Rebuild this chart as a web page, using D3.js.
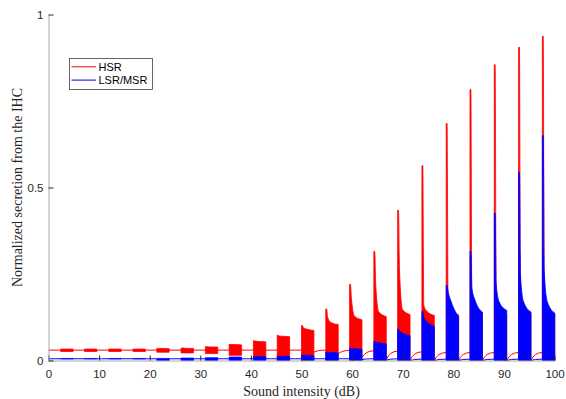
<!DOCTYPE html>
<html>
<head>
<meta charset="utf-8">
<script src="https://cdn.jsdelivr.net/npm/d3@7"></script>
<style>
  html, body { margin: 0; padding: 0; background: #fff; }
  svg { display: block; }
  .tick text { font-family: "Liberation Sans", Arial, sans-serif; font-size: 11.5px; fill: #262626; }
  .tick line { stroke: #262626; }
  .domain { stroke: #a8a8a8; }
</style>
</head>
<body>
<svg id="chart" width="566" height="399"></svg>
<script>
// Tone-burst onsets along the intensity axis (dB) and tone length (dB units)
const onsets = [2.4, 7.1, 11.9, 16.7, 21.4, 26.2, 31.0, 35.7, 40.5, 45.2, 50.0,
                54.8, 59.5, 64.3, 69.0, 73.8, 78.6, 83.3, 88.1, 92.9, 97.6];
const toneDur = 2.45;

// Spontaneous secretion levels between tones
const hsrSpont = 0.030;
const lsrSpont = 0.005;

// HSR response envelope per tone: onset peak, early, mid, end, trough
const hsrPeak  = [0.033, 0.033, 0.033, 0.033, 0.035, 0.036, 0.040, 0.047, 0.057, 0.073, 0.101,
                  0.149, 0.220, 0.315, 0.434, 0.563, 0.685, 0.783, 0.855, 0.905, 0.937];
const hsrEarly = [0.033, 0.033, 0.033, 0.033, 0.035, 0.036, 0.040, 0.046, 0.056, 0.071, 0.095,
                  0.125, 0.180, 0.220, 0.260, 0.160, 0.165, 0.160, 0.160, 0.160, 0.160];
const hsrMid   = [0.033, 0.033, 0.033, 0.033, 0.035, 0.035, 0.039, 0.046, 0.055, 0.070, 0.091,
                  0.110, 0.128, 0.140, 0.147, 0.142, 0.145, 0.145, 0.145, 0.145, 0.145];
const hsrEnd   = [0.033, 0.033, 0.033, 0.033, 0.034, 0.035, 0.039, 0.045, 0.054, 0.069, 0.087,
                  0.104, 0.118, 0.127, 0.133, 0.130, 0.132, 0.135, 0.135, 0.135, 0.135];
const hsrLow   = [0.026, 0.026, 0.026, 0.026, 0.024, 0.022, 0.020, 0.015, 0.007, 0.000, 0.000,
                  0.000, 0.000, 0.000, 0.000, 0.000, 0.000, 0.000, 0.000, 0.000, 0.000];

// LSR/MSR response envelope per tone
const lsrPeak  = [0.006, 0.006, 0.006, 0.006, 0.006, 0.007, 0.008, 0.010, 0.011, 0.0125, 0.016,
                  0.024, 0.036, 0.055, 0.090, 0.142, 0.217, 0.316, 0.426, 0.544, 0.650];
const lsrEarly = [0.006, 0.006, 0.006, 0.006, 0.006, 0.007, 0.008, 0.010, 0.011, 0.012, 0.016,
                  0.024, 0.035, 0.054, 0.086, 0.125, 0.200, 0.210, 0.222, 0.250, 0.260];
const lsrMid   = [0.006, 0.006, 0.006, 0.006, 0.006, 0.007, 0.008, 0.010, 0.011, 0.012, 0.015,
                  0.023, 0.034, 0.051, 0.079, 0.112, 0.170, 0.175, 0.169, 0.170, 0.170];
const lsrEnd   = [0.006, 0.006, 0.006, 0.006, 0.006, 0.007, 0.008, 0.010, 0.011, 0.012, 0.014,
                  0.022, 0.032, 0.048, 0.072, 0.099, 0.125, 0.140, 0.145, 0.140, 0.137];
const lsrLow   = [0.004, 0.004, 0.004, 0.004, 0.000, 0.000, 0.000, 0.000, 0.000, 0.000, 0.000,
                  0.000, 0.000, 0.000, 0.000, 0.000, 0.000, 0.000, 0.000, 0.000, 0.000];

// Post-tone depression and recovery level reached before the next tone
const hsrDip   = [0.030, 0.030, 0.030, 0.030, 0.030, 0.030, 0.030, 0.030, 0.030, 0.030,
                  0.024, 0.019, 0.008, 0.002, 0.000, 0.000, 0.000, 0.000, 0.000, 0.000];
const hsrRecov = [0.030, 0.030, 0.030, 0.030, 0.030, 0.030, 0.030, 0.030, 0.030, 0.030,
                  0.030, 0.029, 0.028, 0.027, 0.025, 0.023, 0.023, 0.023, 0.023, 0.023];
const lsrDip   = [0.005, 0.005, 0.005, 0.005, 0.005, 0.005, 0.005, 0.005, 0.005, 0.005,
                  0.005, 0.005, 0.003, 0.001, 0.000, 0.000, 0.000, 0.000, 0.000, 0.000];
const lsrRecov = [0.005, 0.005, 0.005, 0.005, 0.005, 0.005, 0.005, 0.005, 0.005, 0.005,
                  0.005, 0.005, 0.005, 0.005, 0.004, 0.004, 0.004, 0.004, 0.004, 0.004];

const xTicks = [0, 10, 20, 30, 40, 50, 60, 70, 80, 90, 100];
const yTicks = [0, 0.5, 1];
const yTickLabels = ["0", "0.5", "1"];

const seriesNames = ["HSR", "LSR/MSR"];
const seriesColors = ["#ff0000", "#0000ff"];

const svg = d3.select("#chart");
const x = d3.scaleLinear().domain([0, 100]).range([48.5, 554.5]);
const y = d3.scaleLinear().domain([0, 1]).range([360.5, 14.5]);

const plot = svg.append("g");

const area = d3.area()
  .x(d => x(d[0]))
  .y0(d => y(d[2]))
  .y1(d => y(d[1]))
  .curve(d3.curveMonotoneX);

function drawSeries(color, peak, early, mid, end, low, dip, recov, spont) {
  const g = plot.append("g");
  // resting level before the first tone
  g.append("path")
    .attr("d", d3.line().x(d => x(d[0])).y(d => y(d[1]))([[0, spont], [onsets[0], spont]]))
    .attr("fill", "none").attr("stroke", color).attr("stroke-width", 1);

  // recovery between consecutive tones
  for (let i = 0; i < onsets.length - 1; i++) {
    const off = onsets[i] + toneDur;
    const next = onsets[i + 1];
    const gap = next - off;
    const p = d3.path();
    p.moveTo(x(off), y(dip[i]));
    p.quadraticCurveTo(x(off + 0.3 * gap), y(recov[i]), x(next), y(recov[i]));
    g.append("path").attr("d", p.toString())
      .attr("fill", "none").attr("stroke", color).attr("stroke-width", 1);
  }

  // the tone responses, drawn as the filled envelope of the fine structure
  onsets.forEach((t0, i) => {
    const pts = [
      [t0, peak[i], low[i]],
      [t0 + 0.07 * toneDur, peak[i], low[i]],
      [t0 + 0.15 * toneDur, early[i], low[i]],
      [t0 + 0.40 * toneDur, mid[i], low[i]],
      [t0 + toneDur, end[i], low[i]]
    ];
    g.append("path").attr("d", area(pts))
      .attr("fill", color).attr("stroke", color)
      .attr("stroke-width", 0.8).attr("stroke-linejoin", "miter");
  });
}

drawSeries(seriesColors[0], hsrPeak, hsrEarly, hsrMid, hsrEnd, hsrLow, hsrDip, hsrRecov, hsrSpont);
drawSeries(seriesColors[1], lsrPeak, lsrEarly, lsrMid, lsrEnd, lsrLow, lsrDip, lsrRecov, lsrSpont);

// Axes: ticks point inward, labels outside
svg.append("g")
  .attr("transform", "translate(0,360.5)")
  .call(d3.axisBottom(x).tickValues(xTicks).tickFormat(d3.format("d"))
    .tickSizeInner(-5).tickSizeOuter(0).tickPadding(9.3));

svg.append("g")
  .attr("transform", "translate(48.5,0)")
  .call(d3.axisLeft(y).tickValues(yTicks).tickFormat((d, i) => yTickLabels[i])
    .tickSizeInner(-5).tickSizeOuter(0).tickPadding(5));

svg.selectAll(".domain").attr("stroke", "#a8a8a8");

// Axis titles
svg.append("text")
  .attr("x", 301.5).attr("y", 395.5)
  .attr("text-anchor", "middle")
  .style("font-family", "'Liberation Serif', 'Times New Roman', serif")
  .style("font-size", "14px").style("fill", "#262626")
  .text("Sound intensity (dB)");

svg.append("text")
  .attr("transform", "translate(21.5,187.5) rotate(-90)")
  .attr("text-anchor", "middle")
  .style("font-family", "'Liberation Serif', 'Times New Roman', serif")
  .style("font-size", "14px").style("fill", "#262626")
  .text("Normalized secretion from the IHC");

// Legend
const legend = svg.append("g");
legend.append("rect")
  .attr("x", 69.5).attr("y", 58.5).attr("width", 83).attr("height", 31)
  .attr("fill", "#fff").attr("stroke", "#262626").attr("stroke-width", 0.7);
seriesNames.forEach((name, i) => {
  const ly = 66.8 + i * 13.3;
  legend.append("line")
    .attr("x1", 71.5).attr("x2", 96).attr("y1", ly).attr("y2", ly)
    .attr("stroke", seriesColors[i]).attr("stroke-width", 1);
  legend.append("text")
    .attr("x", 98.5).attr("y", ly + 4)
    .style("font-family", "'Liberation Sans', Arial, sans-serif")
    .style("font-size", "11px").style("fill", "#000")
    .text(name);
});
</script>
</body>
</html>
